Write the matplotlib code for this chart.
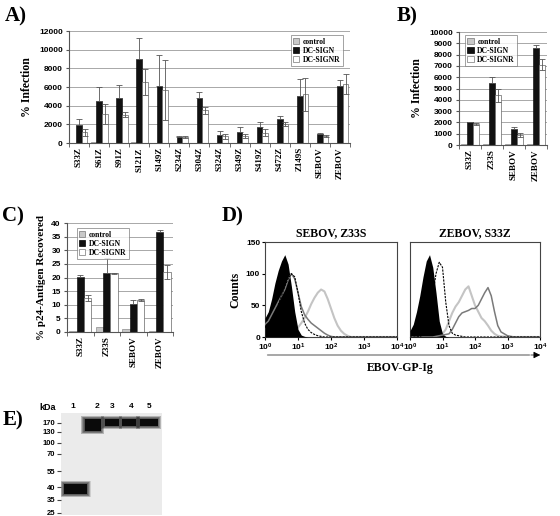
import numpy as np
import matplotlib
matplotlib.use('Agg')
import matplotlib.pyplot as plt
from matplotlib.patches import Patch, FancyArrowPatch

plt.rcParams['font.family'] = 'Liberation Serif'
plt.rcParams['mathtext.fontset'] = 'custom'
plt.rcParams['mathtext.rm'] = 'Liberation Sans:bold'
plt.rcParams['mathtext.it'] = 'Liberation Sans:bold'
plt.rcParams['mathtext.bf'] = 'Liberation Sans:bold'

# ---- data ----
# Panel A
a_cats = ['S33Z', 'S61Z', 'S91Z', 'S121Z', 'S149Z', 'S234Z', 'S304Z', 'S324Z',
          'S349Z', 'S419Z', 'S472Z', 'Z149S', 'SEBOV', 'ZEBOV']
a_control = [50, 60, 50, 60, 50, 40, 50, 40, 40, 40, 50, 50, 40, 50]
a_dcsign = [1950, 4500, 4800, 9000, 6150, 650, 4850, 850, 1200, 1750, 2600, 5000, 950, 6100]
a_dcsign_err = [600, 1550, 1450, 2250, 3300, 100, 650, 450, 500, 450, 300, 1900, 150, 700]
a_dcsignr = [1150, 3100, 3050, 6500, 5650, 600, 3500, 700, 750, 1100, 2000, 5200, 750, 6300]
a_dcsignr_err = [400, 1050, 250, 1400, 3200, 100, 400, 250, 250, 400, 200, 1800, 150, 1100]

# Panel B
b_cats = ['S33Z', 'Z33S', 'SEBOV', 'ZEBOV']
b_control = [50, 50, 50, 50]
b_dcsign = [2000, 5500, 1450, 8550]
b_dcsign_err = [30, 500, 100, 300]
b_dcsignr = [1850, 4400, 900, 7100]
b_dcsignr_err = [100, 600, 200, 500]

# Panel C
c_cats = ['S33Z', 'Z33S', 'SEBOV', 'ZEBOV']
c_control = [0.3, 2.0, 1.0, 0.3]
c_dcsign = [20.2, 21.7, 10.2, 36.8]
c_dcsign_err = [0.6, 5.5, 1.5, 0.8]
c_dcsignr = [12.5, 21.5, 11.7, 22.0]
c_dcsignr_err = [1.0, 0.3, 0.5, 2.5]

# Panel D (log10 of fluorescence, counts)
d_logx = [0.0, 0.1, 0.2, 0.3, 0.4, 0.5, 0.6, 0.7, 0.8, 0.9, 1.0, 1.1, 1.2, 1.3, 1.4,
          1.5, 1.6, 1.7, 1.8, 1.9, 2.0, 2.1, 2.2, 2.3, 2.4, 2.5, 2.6, 2.7, 2.8, 3.0, 3.2, 4.0]
dl_filled = [30, 40, 60, 85, 105, 120, 130, 115, 80, 40, 12, 3, 1, 0, 0,
             0, 0, 0, 0, 0, 0, 0, 0, 0, 0, 0, 0, 0, 0, 0, 0, 0]
dl_dashed = [15, 20, 25, 35, 50, 65, 80, 92, 100, 95, 70, 40, 22, 12, 7,
             4, 2, 1, 0, 0, 0, 0, 0, 0, 0, 0, 0, 0, 0, 0, 0, 0]
dl_dark = [20, 25, 35, 45, 55, 65, 75, 90, 100, 92, 70, 48, 35, 28, 22,
           18, 14, 10, 6, 3, 1, 0, 0, 0, 0, 0, 0, 0, 0, 0, 0, 0]
dl_light = [3, 4, 5, 5, 6, 7, 7, 8, 8, 10, 15, 22, 30, 40, 52,
            62, 70, 75, 72, 60, 45, 30, 18, 10, 5, 2, 0, 0, 0, 0, 0, 0]
dr_filled = [10, 20, 40, 65, 95, 120, 130, 110, 70, 25, 5, 1, 0, 0, 0,
             0, 0, 0, 0, 0, 0, 0, 0, 0, 0, 0, 0, 0, 0, 0, 0, 0]
dr_dashed = [0, 0, 0, 1, 3, 10, 30, 65, 100, 118, 110, 55, 18, 6, 3,
             2, 1, 0, 0, 0, 0, 0, 0, 0, 0, 0, 0, 0, 0, 0, 0, 0]
dr_light = [0, 0, 0, 0, 0, 0, 0, 1, 2, 3, 5, 12, 25, 38, 48,
            55, 65, 75, 80, 65, 50, 40, 30, 25, 18, 10, 5, 2, 1, 0, 0, 0]
dr_dark = [0, 0, 0, 0, 0, 0, 0, 0, 1, 2, 3, 4, 5, 12, 22,
           32, 38, 40, 42, 45, 45, 50, 60, 70, 78, 65, 40, 18, 8, 2, 0, 0]

# Panel E (western blot)
e_kda = ['170', '130', '100', '70', '55', '40', '35', '25']
e_kda_pos = [9.7, 18.7, 29.7, 41, 58, 74, 87, 99.7]
e_lanes = ['1', '2', '3', '4', '5']
e_lane_x = [12, 36, 51, 70, 88]
e_band_x = [14.5, 31.5, 50.5, 68.5, 87.5]
e_band_w = [23, 16, 14, 14, 18]
e_band_top = [71, 6, 6, 6, 6]
e_band_bot = [81, 18, 13, 13, 13]

W, H = 560, 516
fig = plt.figure(figsize=(W / 100, H / 100), dpi=100)


def px_axes(l, t, r, b):
    return fig.add_axes([l / W, 1 - b / H, (r - l) / W, (b - t) / H])


SANS = 'Liberation Sans'
LIGHT = '#c8c8c8'


def bar_panel(ax, cats, ctrl, dc, dc_err, dcr, dcr_err, ymax, ystep, ylabel, legpos):
    x = np.arange(len(cats))
    w = 0.28
    ax.bar(x - w, ctrl, w, color=LIGHT, edgecolor='#777777', linewidth=0.4, zorder=2)
    ax.bar(x, dc, w, color='#111111', edgecolor='black', linewidth=0.4, zorder=2,
           yerr=[np.zeros(len(dc)), dc_err], error_kw=dict(ecolor='#555555', elinewidth=0.6, capsize=2, capthick=0.6))
    ax.bar(x + w, dcr, w, color='white', edgecolor='#666666', linewidth=0.5, zorder=2,
           yerr=dcr_err, error_kw=dict(ecolor='#555555', elinewidth=0.6, capsize=2, capthick=0.6))
    ax.set_xlim(-0.5, len(cats) - 0.5)
    ax.set_ylim(0, ymax)
    ax.set_yticks(np.arange(0, ymax + 1, ystep))
    ax.yaxis.grid(True, color='#9a9a9a', linewidth=0.6, zorder=0)
    ax.set_axisbelow(True)
    for s in ['top', 'right']:
        ax.spines[s].set_visible(False)
    ax.spines['left'].set_color('#555555')
    ax.spines['bottom'].set_color('#555555')
    ax.set_xticks(x)
    ax.set_xticklabels(cats, rotation=90, fontsize=6.5, fontweight='bold')
    ax.set_xticks(np.arange(-0.5, len(cats)), minor=True)
    ax.tick_params(axis='x', which='major', length=0, pad=3)
    ax.tick_params(axis='x', which='minor', length=3, color='#555555')
    ax.tick_params(axis='y', length=2.5, color='#555555', pad=2)
    for lab in ax.get_yticklabels():
        lab.set_fontfamily(SANS)
        lab.set_fontweight('bold')
        lab.set_fontsize(6)
    ax.set_ylabel(ylabel, fontsize=8.5, fontweight='bold', labelpad=4)
    handles = [Patch(facecolor=LIGHT, edgecolor='#777777', linewidth=0.5, label='control'),
               Patch(facecolor='#111111', edgecolor='black', linewidth=0.5, label='DC-SIGN'),
               Patch(facecolor='white', edgecolor='#777777', linewidth=0.5, label='DC-SIGNR')]
    leg = ax.legend(handles=handles, loc='upper left', bbox_to_anchor=legpos, fontsize=5.5,
                    frameon=True, fancybox=False, borderpad=0.3, labelspacing=0.15,
                    handlelength=0.8, handleheight=0.8, handletextpad=0.5, borderaxespad=0)
    leg.get_frame().set_edgecolor('#777777')
    leg.get_frame().set_linewidth(0.6)
    for t in leg.get_texts():
        t.set_fontweight('bold')


axA = px_axes(69, 31, 350, 143)
bar_panel(axA, a_cats, a_control, a_dcsign, a_dcsign_err, a_dcsignr, a_dcsignr_err,
          12000, 2000, '% Infection', (0.79, 0.96))

axB = px_axes(459, 32, 547, 145)
bar_panel(axB, b_cats, b_control, b_dcsign, b_dcsign_err, b_dcsignr, b_dcsignr_err,
          10000, 1000, '% Infection', (0.07, 0.97))

axC = px_axes(67, 223, 173, 332)
bar_panel(axC, c_cats, c_control, c_dcsign, c_dcsign_err, c_dcsignr, c_dcsignr_err,
          40, 5, '% p24-Antigen Recovered', (0.09, 0.95))
axC.yaxis.label.set_fontsize(8)


def hist_panel(ax, filled, dashed, dark, light, title, show_y):
    xs = 10 ** np.array(d_logx)
    ax.fill_between(xs, filled, color='black', zorder=3, linewidth=0)
    ax.plot(xs, light, color='#c4c4c4', linewidth=1.5, zorder=2)
    ax.plot(xs, dark, color='#7a7a7a', linewidth=1.1, zorder=4)
    ax.plot(xs, dashed, color='black', linewidth=0.8, linestyle=(0, (2, 1)), zorder=5)
    ax.set_xscale('log')
    ax.set_xlim(1, 10000)
    ax.set_ylim(0, 150)
    ax.set_xticks([1, 10, 100, 1000, 10000])
    ax.set_xticklabels(['$10^0$', '$10^1$', '$10^2$', '$10^3$', '$10^4$'])
    ax.minorticks_off()
    ax.set_yticks([0, 50, 100, 150])
    ax.tick_params(length=2.5, pad=1, labelsize=6)
    for lab in ax.get_yticklabels():
        lab.set_fontfamily(SANS)
        lab.set_fontweight('bold')
    if not show_y:
        ax.set_yticklabels([])
        ax.tick_params(axis='y', length=0)
    for s in ax.spines.values():
        s.set_color('#444444')
        s.set_linewidth(0.8)
    ax.set_title(title, fontsize=8.5, fontweight='bold', pad=4)


axD1 = px_axes(265, 242, 397, 337)
hist_panel(axD1, dl_filled, dl_dashed, dl_dark, dl_light, 'SEBOV, Z33S', True)
axD1.set_ylabel('Counts', fontsize=8.5, fontweight='bold', labelpad=3)
axD2 = px_axes(410, 242, 540, 337)
hist_panel(axD2, dr_filled, dr_dashed, dr_dark, dr_light, 'ZEBOV, S33Z', False)

fig.add_artist(FancyArrowPatch((265 / W, 1 - 355 / H), (532 / W, 1 - 355 / H),
                               transform=fig.transFigure, arrowstyle='-',
                               color='#a0a0a0', linewidth=1.3))
fig.add_artist(FancyArrowPatch((528 / W, 1 - 355 / H), (543 / W, 1 - 355 / H),
                               transform=fig.transFigure, arrowstyle='-|>',
                               mutation_scale=10, color='black', linewidth=0.5))
fig.text(400 / W, 1 - 368 / H, 'EBOV-GP-Ig', fontsize=8.5, fontweight='bold', ha='center', va='center')

# Panel E
axE = px_axes(61, 413, 162, 515)
axE.set_facecolor('#ebebeb')
axE.set_xlim(0, 101)
axE.set_ylim(102, 0)
top = np.array(e_band_top)
bot = np.array(e_band_bot)
for k in range(8, 0, -1):
    axE.bar(e_band_x, bot - top + k * 0.8, bottom=top - k * 0.4,
            width=np.array(e_band_w) + k * 0.9, color='black', alpha=0.12, linewidth=0)
axE.bar(e_band_x, bot - top, bottom=top, width=e_band_w, color='#0a0a0a', linewidth=0)
for s in axE.spines.values():
    s.set_visible(False)
axE.set_yticks(e_kda_pos)
axE.set_yticklabels(e_kda)
axE.tick_params(axis='y', length=3, width=0.8, pad=1, color='#444444')
for lab in axE.get_yticklabels():
    lab.set_fontfamily(SANS)
    lab.set_fontweight('bold')
    lab.set_fontsize(5.5)
axE.xaxis.tick_top()
axE.set_xticks(e_lane_x)
axE.set_xticklabels(e_lanes)
axE.tick_params(axis='x', length=0, pad=2)
for lab in axE.get_xticklabels():
    lab.set_fontfamily(SANS)
    lab.set_fontweight('bold')
    lab.set_fontsize(6)
fig.text(39 / W, 1 - 408 / H, 'kDa', fontsize=6.5, fontweight='bold', family=SANS, va='center')

# panel letters
for lab, (px, py) in {'A)': (5, 16), 'B)': (397, 16), 'C)': (2, 216), 'D)': (222, 216), 'E)': (3, 420)}.items():
    fig.text(px / W, 1 - py / H, lab, fontsize=15, fontweight='bold', va='center', ha='left')

fig.savefig('out.png', dpi=100, facecolor='white')
